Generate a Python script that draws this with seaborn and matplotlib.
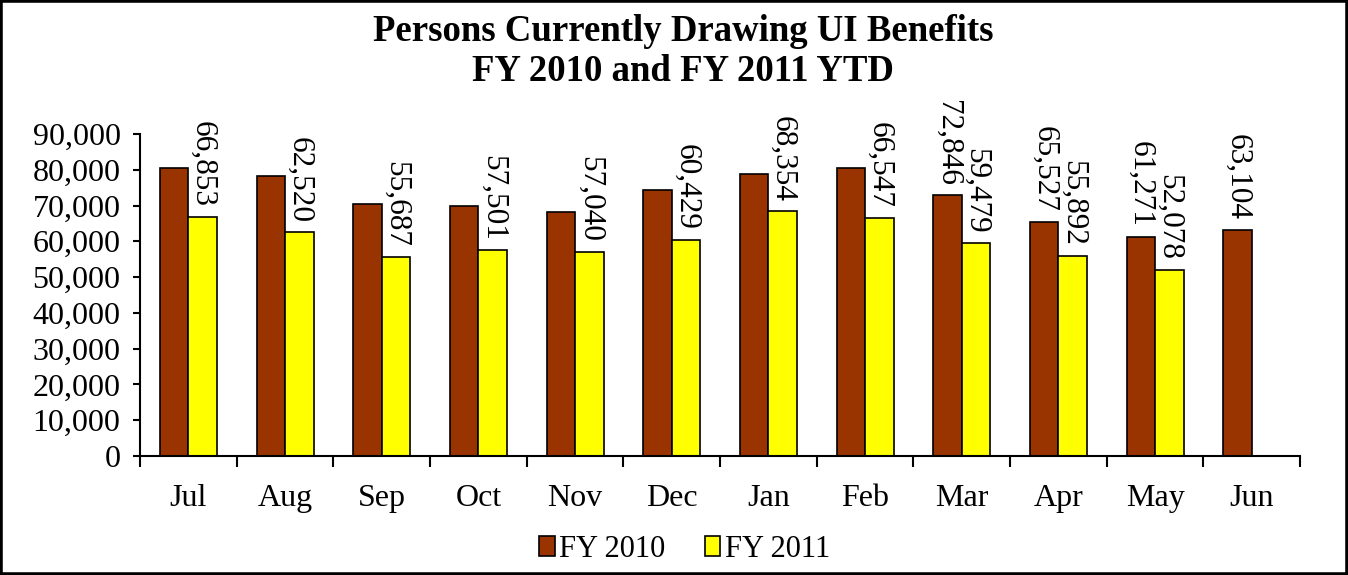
import matplotlib
matplotlib.use("Agg")
import matplotlib.pyplot as plt
import pandas as pd
import seaborn as sns
from matplotlib.patches import Rectangle
from matplotlib.ticker import StrMethodFormatter, FixedLocator

# Values
months = ["Jul", "Aug", "Sep", "Oct", "Nov", "Dec", "Jan", "Feb", "Mar", "Apr", "May", "Jun"]
fy2010 = [80500, 78200, 70300, 69800, 68100, 74300, 78800, 80400, 72846, 65527, 61271, 63104]
fy2011 = [66853, 62520, 55687, 57501, 57040, 60429, 68354, 66547, 59479, 55892, 52078, None]
# only the last four FY 2010 bars carry a label in the original
fy2010_labels = ["", "", "", "", "", "", "", "", "72,846", "65,527", "61,271", "63,104"]
fy2011_labels = [f"{v:,}" for v in fy2011 if v is not None]

df = pd.concat([
    pd.DataFrame({"Month": months, "Year": "FY 2010", "Persons": fy2010}),
    pd.DataFrame({"Month": months, "Year": "FY 2011", "Persons": fy2011}),
], ignore_index=True)

sns.set_style("ticks")
plt.rcParams["font.family"] = ["Liberation Serif", "DejaVu Serif"]
plt.rcParams["text.color"] = "black"
plt.rcParams["xtick.color"] = "black"
plt.rcParams["ytick.color"] = "black"

fig = plt.figure(figsize=(13.48, 5.75), dpi=100)
ax = fig.add_axes([0.1039, 0.207, 0.8605, 0.56])

sns.barplot(data=df, x="Month", y="Persons", hue="Year", order=months,
            palette={"FY 2010": "#993300", "FY 2011": "#FFFF00"}, saturation=1,
            width=0.59, edgecolor="black", linewidth=1.2, errorbar=None, ax=ax)

# data labels, rotated like the original
ax.bar_label(ax.containers[0], labels=fy2010_labels, rotation=270, padding=7, fontsize=22.5)
ax.bar_label(ax.containers[1], labels=fy2011_labels, rotation=270, padding=7, fontsize=22.5)

ax.set_ylim(0, 90000)
ax.set_xlim(-0.5, len(months) - 0.5)
ax.yaxis.set_major_formatter(StrMethodFormatter("{x:,.0f}"))
ax.set_yticks(range(0, 90001, 10000))
ax.xaxis.set_minor_locator(FixedLocator([i - 0.5 for i in range(len(months) + 1)]))
ax.tick_params(axis="x", which="major", length=0, pad=20, labelsize=23)
ax.tick_params(axis="x", which="minor", length=8, width=1.5, direction="out")
ax.tick_params(axis="y", length=5, width=1.5, pad=9, labelsize=23)
ax.set_xlabel("")
ax.set_ylabel("")
sns.despine(ax=ax)
for s in ["left", "bottom"]:
    ax.spines[s].set_linewidth(1.5)
    ax.spines[s].set_color("black")

handles, labels = ax.get_legend_handles_labels()
ax.get_legend().remove()
fig.legend(handles, labels, loc="center", bbox_to_anchor=(0.508, 0.045), ncol=2,
           frameon=False, fontsize=22, handlelength=0.5, handleheight=0.6,
           handletextpad=0.15, columnspacing=1.3)

fig.text(0.507, 0.91, "Persons Currently Drawing UI Benefits\nFY 2010 and FY 2011 YTD",
         ha="center", va="center", fontsize=26.5, fontweight="bold", linespacing=1.2)

fig.patches.append(Rectangle((0, 0), 1, 1, transform=fig.transFigure, fill=False,
                             edgecolor="black", linewidth=4))

fig.savefig("out.png", dpi=100)
